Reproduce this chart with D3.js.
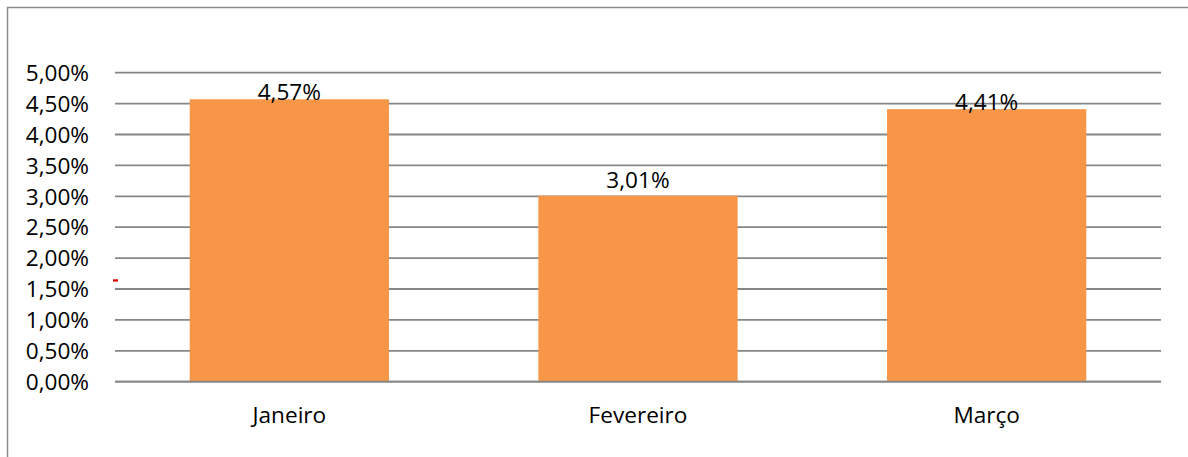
<!DOCTYPE html>
<html>
<head>
<meta charset="utf-8">
<script src="https://cdn.jsdelivr.net/npm/d3@7"></script>
<style>
  html, body { margin: 0; padding: 0; background: #fff; }
  svg { display: block; }
  text { font-family: "Open Sans", "Liberation Sans", sans-serif; fill: #000; }
</style>
</head>
<body>
<svg id="chart" width="1188" height="457"></svg>
<script>
// Monthly rates
const categories = ["Janeiro", "Fevereiro", "Março"];
const values = [4.57, 3.01, 4.41];
const tickValues = [0, 0.5, 1, 1.5, 2, 2.5, 3, 3.5, 4, 4.5, 5];

const fmt = v => d3.format(".2f")(v).replace(".", ",") + "%";

const W = 1188, H = 457;
const plot = { left: 115, right: 1161, top: 72.7, bottom: 381.7 };
const fontSize = 22.6;

const svg = d3.select("#chart");

// outer chart frame
svg.append("rect")
  .attr("x", 7.5).attr("y", 7.5)
  .attr("width", W + 10).attr("height", H + 10)
  .attr("fill", "none")
  .attr("stroke", "#8c8c8c")
  .attr("stroke-width", 1.5);

const x = d3.scaleBand()
  .domain(categories)
  .range([plot.left, plot.right])
  .paddingInner(0.4286)
  .paddingOuter(0.2143);

const y = d3.scaleLinear()
  .domain([0, 5])
  .range([plot.bottom, plot.top]);

// horizontal gridlines
svg.append("g")
  .selectAll("line")
  .data(tickValues)
  .join("line")
  .attr("x1", plot.left).attr("x2", plot.right)
  .attr("y1", d => y(d)).attr("y2", d => y(d))
  .attr("stroke", "#868686")
  .attr("stroke-width", 1.8);

// y tick labels
svg.append("g")
  .selectAll("text")
  .data(tickValues)
  .join("text")
  .attr("x", 89)
  .attr("y", d => y(d) + 8.2)
  .attr("text-anchor", "end")
  .attr("font-size", fontSize)
  .text(fmt);

// bars
svg.append("g")
  .selectAll("rect")
  .data(values)
  .join("rect")
  .attr("x", (d, i) => x(categories[i]))
  .attr("y", d => y(d))
  .attr("width", x.bandwidth())
  .attr("height", d => y(0) - y(d))
  .attr("fill", "#F79646");

// baseline over the bars
svg.append("line")
  .attr("x1", plot.left).attr("x2", plot.right)
  .attr("y1", y(0)).attr("y2", y(0))
  .attr("stroke", "#868686")
  .attr("stroke-width", 1.8);

// value labels (tall bars keep their label pressed onto the bar top)
svg.append("g")
  .selectAll("text")
  .data(values)
  .join("text")
  .attr("x", (d, i) => x(categories[i]) + x.bandwidth() / 2)
  .attr("y", d => y(d) + (d > 4 ? 1.2 : -7.5))
  .attr("text-anchor", "middle")
  .attr("font-size", fontSize)
  .text(fmt);

// category labels
svg.append("g")
  .selectAll("text")
  .data(categories)
  .join("text")
  .attr("x", d => x(d) + x.bandwidth() / 2)
  .attr("y", 423.3)
  .attr("text-anchor", "middle")
  .attr("font-size", fontSize)
  .text(d => d);

// small red marker near the 1,50% gridline
svg.append("rect")
  .attr("x", 113).attr("y", 279.3)
  .attr("width", 5).attr("height", 2.3)
  .attr("fill", "#e00000");
</script>
</body>
</html>
